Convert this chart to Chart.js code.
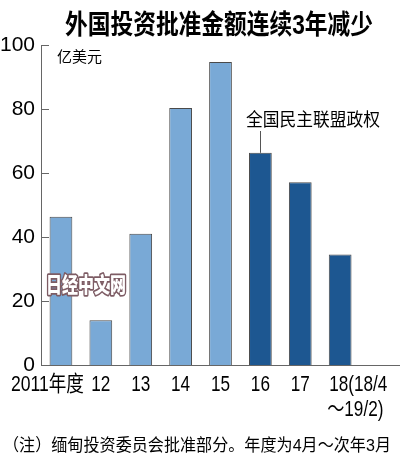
<!DOCTYPE html>
<html>
<head>
<meta charset="utf-8">
<script src="https://cdn.jsdelivr.net/npm/chart.js@4"></script>
<style>
  body { margin: 0; background: #fff; }
  #wrap { width: 400px; height: 467px; }
</style>
</head>
<body>
<div id="wrap"><canvas id="grafico" width="400" height="467"></canvas></div>
<script>
// datos
var anios = ['2011', '12', '13', '14', '15', '16', '17', '18', ''];
var etiquetas = ['2011年度', '12', '13', '14', '15', '16', '17', '18(18/4', ''];
var valores = [46.3, 14, 41, 80.3, 94.7, 66.3, 57.1, 34.5, null];
var tipo = ['a', 'a', 'a', 'a', 'a', 'b', 'b', 'b', 'a'];
var ticksY = [0, 20, 40, 60, 80, 100];

var fuente = '"Liberation Sans", "Noto Sans CJK SC", sans-serif';
var fuenteCJK = '"Liberation Sans", "Noto Sans CJK SC", sans-serif';

var colores = tipo.map(function(t){ return t == 'a' ? '#79a9d6' : '#1d5791'; });

// texto estrechado horizontalmente
function texto(ctx, t, x, y, align, sx) {
  ctx.save();
  ctx.translate(x, y);
  ctx.scale(sx, 1);
  ctx.textAlign = align;
  ctx.fillText(t, 0, 0);
  ctx.restore();
}

var textos = {
  id: 'textos',
  afterDraw: function(chart) {
    var ctx = chart.ctx;
    var x = chart.scales.x, y = chart.scales.y;
    ctx.save();

    // marcas del eje y hacia adentro
    ctx.strokeStyle = '#666';
    ctx.lineWidth = 1;
    ticksY.forEach(function(v){
      var py = Math.round(y.getPixelForValue(v)) + 0.5;
      ctx.beginPath();
      ctx.moveTo(chart.chartArea.left, py);
      ctx.lineTo(chart.chartArea.left + 8, py);
      ctx.stroke();
    });

    // titulo
    ctx.fillStyle = '#000';
    ctx.textBaseline = 'alphabetic';
    ctx.textAlign = 'left';
    ctx.font = 'bold 27px ' + fuenteCJK;
    ctx.fillText('外国投资批准金额连续3年减少', 65, 34, 308);

    // unidad
    ctx.font = '15px ' + fuenteCJK;
    ctx.fillText('亿美元', 57, 62);

    // etiquetas eje x
    ctx.font = '22px ' + fuente;
    var by = 391;
    etiquetas.forEach(function(t, i){
      if (!t) return;
      var px = x.getPixelForValue(i);
      if (i == 0) {
        texto(ctx, t, px + 23, by, 'right', 0.8);
      } else if (i == 7) {
        texto(ctx, t, px - 11, by, 'left', 0.78);
        texto(ctx, '～19/2)', px - 13, by + 25, 'left', 0.78);
      } else {
        texto(ctx, t, px, by, 'center', 0.78);
      }
    });

    // anotacion
    var p16 = x.getPixelForValue(5);
    var t16 = y.getPixelForValue(valores[5]);
    ctx.strokeStyle = '#555';
    ctx.beginPath();
    ctx.moveTo(Math.round(p16) + 0.5, 131);
    ctx.lineTo(Math.round(p16) + 0.5, t16);
    ctx.stroke();
    ctx.textAlign = 'left';
    ctx.font = '18px ' + fuenteCJK;
    ctx.fillText('全国民主联盟政权', 246, 126, 134);

    // nota
    ctx.font = '17px ' + fuenteCJK;
    ctx.fillText('（注）缅甸投资委员会批准部分。年度为4月～次年3月', 3, 451, 388);

    // marca de agua
    ctx.font = '900 21px ' + fuenteCJK;
    ctx.lineWidth = 3.5;
    ctx.lineJoin = 'round';
    ctx.strokeStyle = '#7d5c64';
    ctx.strokeText('日经中文网', 46, 292, 80);
    ctx.fillStyle = '#fff';
    ctx.fillText('日经中文网', 46, 292, 80);

    ctx.restore();
  }
};

var ctx = document.getElementById('grafico');

var barGraph = new Chart(ctx, {
  type: 'bar',
  data: {
    labels: anios,
    datasets: [{
      data: valores,
      backgroundColor: colores,
      borderColor: '#4a4a4a',
      borderWidth: 1,
      borderSkipped: 'bottom',
      barPercentage: 0.57,
      categoryPercentage: 1
    }]
  },
  options: {
    responsive: false,
    animation: false,
    layout: { padding: { top: 45, left: 0, right: -5, bottom: 0 } },
    plugins: { legend: { display: false }, tooltip: { enabled: false } },
    scales: {
      x: {
        grid: { display: false, drawTicks: false },
        border: { display: true, color: '#666', width: 1 },
        ticks: { display: false },
        afterFit: function(s){ s.height = 102; }
      },
      y: {
        min: 0,
        max: 100,
        afterBuildTicks: function(s){ s.ticks = ticksY.map(function(v){ return { value: v }; }); },
        grid: { display: false, drawTicks: false },
        border: { display: true, color: '#666', width: 1 },
        ticks: { color: '#000', padding: 6, font: { family: fuente, size: 21 } },
        afterFit: function(s){ s.width = 41; }
      }
    }
  },
  plugins: [textos]
});
</script>
</body>
</html>
